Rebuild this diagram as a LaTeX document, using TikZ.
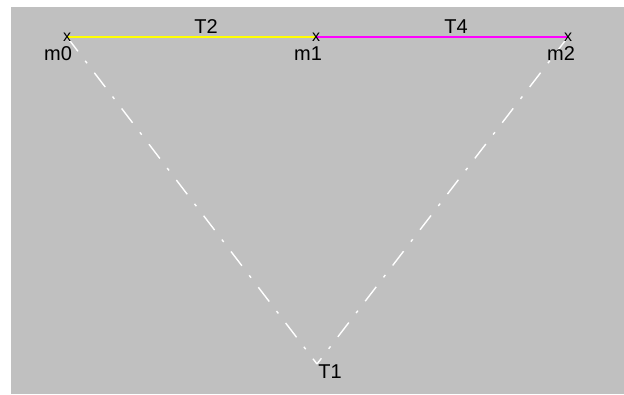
\documentclass[tikz,border=0pt]{standalone}
\usepackage{fontspec}
\setmainfont{Liberation Sans}
\definecolor{bggrey}{HTML}{C0C0C0}
\definecolor{lineyellow}{HTML}{FFFF00}
\definecolor{linemagenta}{HTML}{FF00FF}
\tikzset{
  lbl/.style={inner sep=0pt, font=\fontsize{20}{24}\selectfont, text=black},
  xmark/.style={inner sep=0pt, font=\fontsize{16}{18}\selectfont, text=black},
  edgeline/.style={line width=2pt},
  track/.style={white, line width=1.4pt, dash pattern=on 18pt off 12pt on 3pt off 12pt}
}
\begin{document}
\begin{tikzpicture}[x=1pt,y=-1pt]
\useasboundingbox (0,0) rectangle (624,394);
\fill[white] (0,0) rectangle (624,394);
\fill[bggrey] (11,7) rectangle (624,394);
\coordinate (p0) at (67,37);
\coordinate (p1) at (316,37);
\coordinate (p2) at (568,37);
\coordinate (pT) at (317,364);
\draw[track] (p0) -- (pT);
\draw[track] (p2) -- (pT);
\draw[edgeline, lineyellow] (p0) -- (p1);
\draw[edgeline, linemagenta] (p1) -- (p2);
\node[xmark] (x0) at (p0) {x};
\node[xmark] (x1) at (p1) {x};
\node[xmark] (x2) at (p2) {x};
\node[lbl] (m0) at (58,54) {m0};
\node[lbl] (m1) at (308,54) {m1};
\node[lbl] (m2) at (561,54) {m2};
\node[lbl] (T2) at (206,27) {T2};
\node[lbl] (T4) at (456,27) {T4};
\node[lbl] (T1) at (330,372) {T1};
\end{tikzpicture}
\end{document}
